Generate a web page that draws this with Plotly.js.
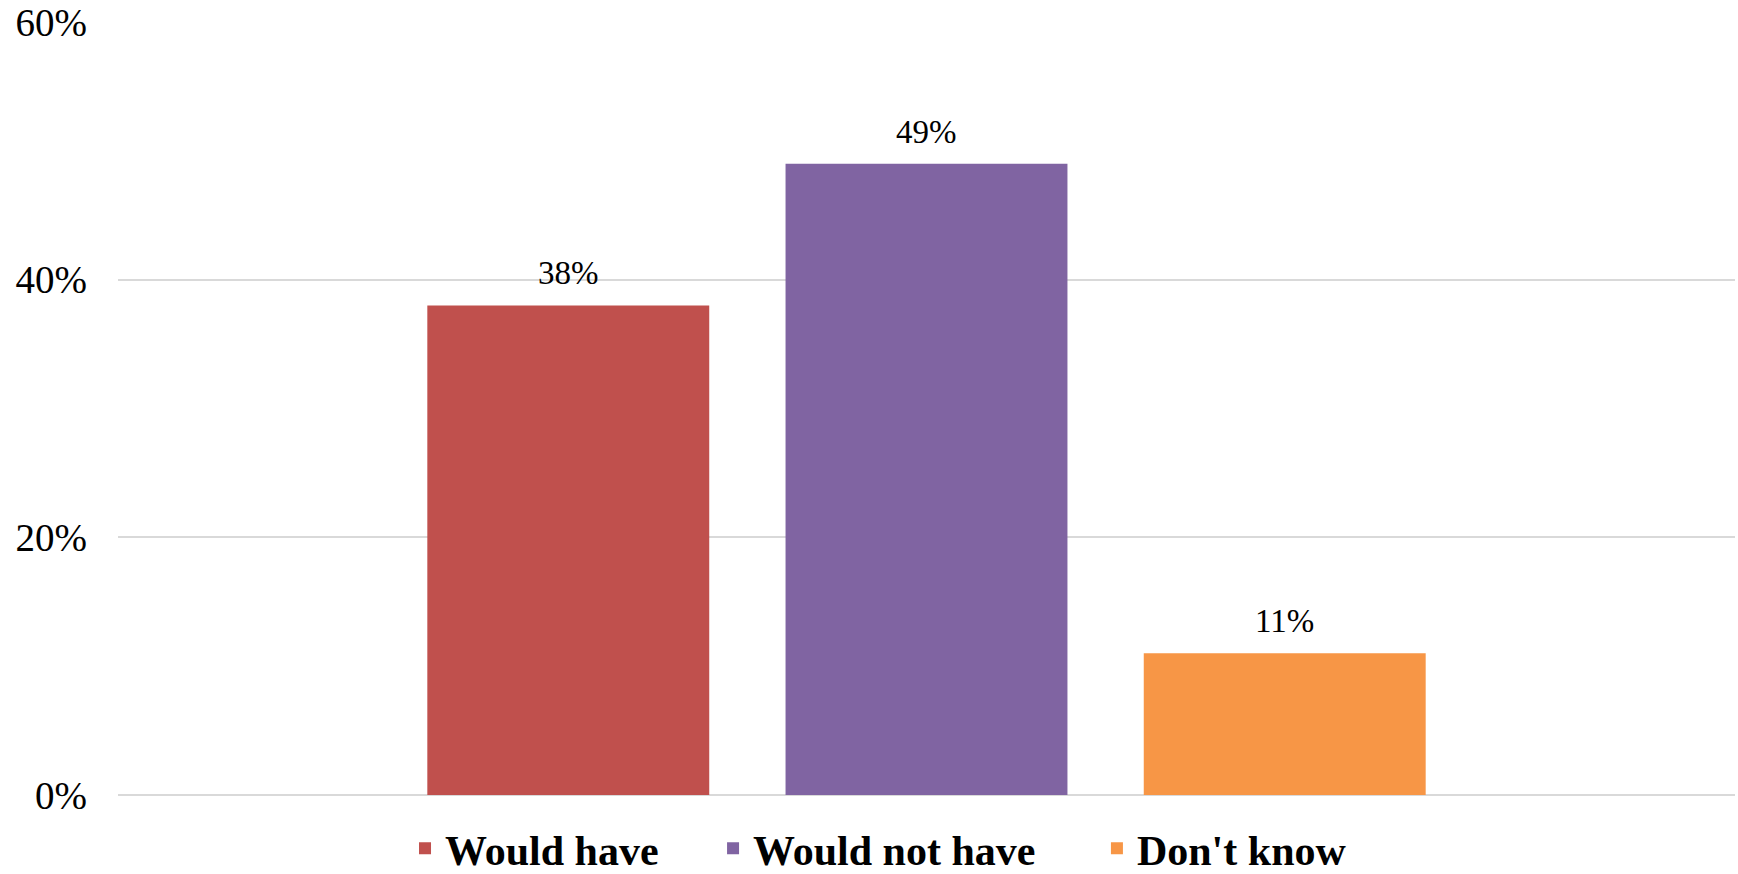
<!DOCTYPE html>
<html>
<head>
<meta charset="utf-8">
<script src="https://cdn.plot.ly/plotly-3.0.1.min.js"></script>
<style>html,body{margin:0;padding:0;background:#fff;}#chart{width:1738px;height:874px;}</style>
</head>
<body>
<div id="chart"></div>
<script>
// Data
const categories = ["Would have", "Would not have", "Don't know"];
const values = [38, 49, 11];
const labels = ["38%", "49%", "11%"];
const colors = ["#C0504D", "#8064A2", "#F79646"];
const yTickVals = [0, 20, 40, 60];
const yTickText = ["0%", "20%", "40%", "60%"];

const legendIds = ["legend", "legend2", "legend3"];
const legendX = [0.1775, 0.368, 0.6054];

const traces = categories.map((c, i) => ({
  type: "bar",
  x: [c],
  y: [values[i]],
  name: c,
  legend: legendIds[i],
  marker: {color: colors[i]},
  hoverinfo: "none"
}));

const legendStyle = (x) => ({
  orientation: "h",
  x: x, xanchor: "left",
  y: -0.069, yanchor: "middle",
  bgcolor: "rgba(0,0,0,0)",
  borderwidth: 0,
  font: {family: "Liberation Serif", size: 42, color: "#000", weight: "bold"}
});

const layout = {
  width: 1738, height: 874,
  margin: {l: 118, r: 3, t: 22, b: 79, autoexpand: false},
  paper_bgcolor: "#fff", plot_bgcolor: "#fff",
  barmode: "overlay",
  bargap: 0.213,
  xaxis: {
    type: "category",
    categoryorder: "array",
    categoryarray: categories,
    range: [-1.257, 3.257],
    showticklabels: false, showgrid: false, zeroline: false, showline: false, ticks: ""
  },
  yaxis: {
    range: [0, 60],
    tickvals: yTickVals,
    ticktext: yTickText,
    showgrid: true, gridcolor: "#d9d9d9", gridwidth: 2,
    zeroline: true, zerolinecolor: "#d9d9d9", zerolinewidth: 2,
    showline: false, ticks: "",
    ticklabelstandoff: 30,
    tickfont: {family: "Liberation Serif", size: 39, color: "#000"}
  },
  annotations: categories.map((c, i) => ({
    x: c, y: values[i], xref: "x", yref: "y",
    text: labels[i], showarrow: false,
    yanchor: "bottom", yshift: 12,
    font: {family: "Liberation Serif", size: 33, color: "#000"}
  })),
  showlegend: true,
  legend: legendStyle(legendX[0]),
  legend2: legendStyle(legendX[1]),
  legend3: legendStyle(legendX[2])
};

Plotly.newPlot("chart", traces, layout, {displayModeBar: false, staticPlot: true});
</script>
</body>
</html>
